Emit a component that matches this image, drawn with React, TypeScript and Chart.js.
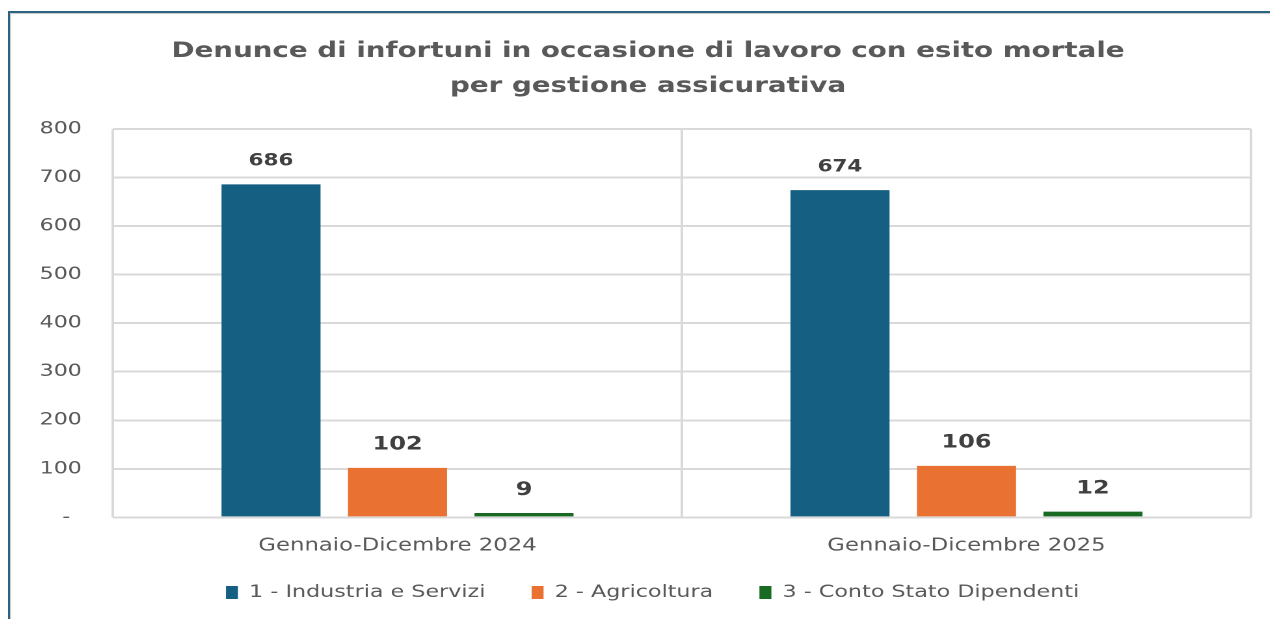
import React, { useEffect, useRef } from "react";
import { Chart, registerables } from "chart.js";

Chart.register(...registerables);

const categories = ["Gennaio-Dicembre 2024", "Gennaio-Dicembre 2025"];
const seriesNames = ["1 - Industria e Servizi", "2 - Agricoltura", "3 - Conto Stato Dipendenti"];
const industria = [686, 674];
const agricoltura = [102, 106];
const contoStato = [9, 12];
const seriesColors = ["#156082", "#E97132", "#196B24"];
const labelSizes = [16.5, 18.5, 18.5];
const titleLines = [
  "Denunce di infortuni in occasione di lavoro con esito mortale",
  "per gestione assicurativa",
];
const yMin = 0;
const yMax = 800;
const yStep = 100;

const FONT = "'DejaVu Sans', Verdana, sans-serif";
const CW = 984;
const CH = 610;
const SCALE_X = 1280 / CW;

const valueLabels = {
  id: "valueLabels",
  afterDatasetsDraw(chart: any) {
    const ctx = chart.ctx;
    ctx.save();
    chart.data.datasets.forEach((ds: any, di: number) => {
      const meta = chart.getDatasetMeta(di);
      meta.data.forEach((bar: any, i: number) => {
        ctx.font = `bold ${labelSizes[di]}px ${FONT}`;
        ctx.fillStyle = "#404040";
        ctx.textAlign = "center";
        ctx.textBaseline = "middle";
        ctx.fillText(String(ds.data[i]), bar.x, bar.y - 23);
      });
    });
    ctx.restore();
  },
};

const shiftBlocks = {
  id: "shiftBlocks",
  afterLayout(chart: any) {
    const t = chart.titleBlock;
    if (t) {
      t.left += 13.5;
      t.right += 13.5;
    }
    const l = chart.legend;
    if (l) {
      l.left += 17;
      l.right += 17;
      l.top -= 12;
      l.bottom -= 12;
    }
  },
};

export default function App() {
  const ref = useRef<HTMLCanvasElement>(null);
  useEffect(() => {
    document.body.style.overflow = "hidden";
    const chart = new Chart(ref.current!, {
      type: "bar",
      data: {
        labels: categories,
        datasets: [
          { label: seriesNames[0], data: industria, backgroundColor: seriesColors[0] },
          { label: seriesNames[1], data: agricoltura, backgroundColor: seriesColors[1] },
          { label: seriesNames[2], data: contoStato, backgroundColor: seriesColors[2] },
        ],
      },
      options: {
        responsive: false,
        animation: false,
        devicePixelRatio: 2,
        datasets: { bar: { categoryPercentage: 0.667, barPercentage: 0.783 } },
        layout: { padding: { left: 0, right: 30, top: 0, bottom: 0 } },
        plugins: {
          tooltip: { enabled: false },
          title: {
            display: true,
            text: titleLines,
            color: "#595959",
            font: { family: FONT, size: 21.3, weight: "bold", lineHeight: 1.643 },
            padding: { top: 21, bottom: 25 },
          },
          legend: {
            position: "bottom",
            labels: {
              boxWidth: 9.2,
              boxHeight: 13,
              padding: 35.5,
              color: "#595959",
              font: { family: FONT, size: 17.1 },
            },
          },
        },
        scales: {
          x: {
            grid: { color: "#d9d9d9", lineWidth: 2, drawTicks: false, offset: true },
            border: { display: false },
            ticks: { color: "#595959", font: { family: FONT, size: 17.5 }, padding: 18 },
            afterFit: (s: any) => {
              s.height = 43;
            },
          },
          y: {
            min: yMin,
            max: yMax,
            grid: { color: "#d9d9d9", lineWidth: 2, drawTicks: false },
            border: { display: false },
            ticks: {
              stepSize: yStep,
              color: "#595959",
              font: { family: FONT, size: 17 },
              padding: 24,
              callback: (v: any) => (v === 0 ? "-\u00a0\u2009" : String(v)),
            },
            afterFit: (s: any) => {
              s.width = 79.2;
            },
          },
        },
      },
      plugins: [valueLabels, shiftBlocks],
    });
    return () => chart.destroy();
  }, []);

  return (
    <div
      style={{
        marginTop: 3,
        width: 1300,
        height: 640,
        borderTop: "2px solid #2a6482",
        borderLeft: "2px solid #2a6482",
        boxShadow: "inset 1px 1px 1px #c8c8c8",
        overflow: "hidden",
        background: "#ffffff",
      }}
    >
      <div
        style={{
          width: CW,
          height: CH,
          transform: `scaleX(${SCALE_X})`,
          transformOrigin: "0 0",
        }}
      >
        <canvas ref={ref} width={CW} height={CH} />
      </div>
    </div>
  );
}
